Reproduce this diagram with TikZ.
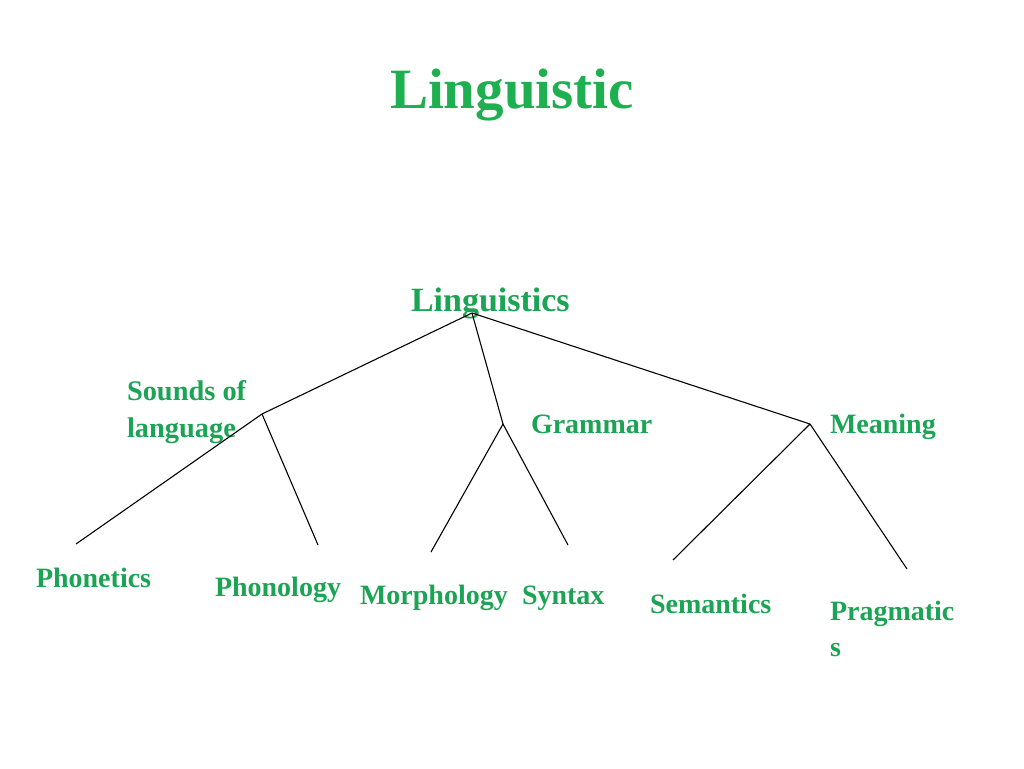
\documentclass[tikz,border=0pt]{standalone}
\usepackage{fontspec}
\setmainfont{Liberation Serif}
\definecolor{titlegreen}{RGB}{30,176,80}
\definecolor{labelgreen}{RGB}{26,164,84}
\begin{document}
\begin{tikzpicture}[x=1pt,y=-1pt,
  lab/.style={inner sep=0pt,outer sep=0pt,text=labelgreen,font=\fontsize{28}{36}\selectfont\bfseries,anchor=base west},
  branch/.style={line width=1.1pt,black}]
\useasboundingbox[fill=white] (0,0) rectangle (1024,768);
\node[inner sep=0pt,anchor=base,text=titlegreen,font=\fontsize{57}{64}\selectfont\bfseries] (title) at (512,108) {Linguistic};
\node[lab,font=\fontsize{34}{40}\selectfont\bfseries] (root) at (411,311) {Linguistics};
\node[lab,anchor=north west,align=left,font=\fontsize{28.4}{37}\selectfont\bfseries] (sounds) at (127,380) {Sounds of\\language};
\node[lab] (grammar) at (531,433) {Grammar};
\node[lab] (meaning) at (830,433) {Meaning};
\node[lab] (phonetics) at (36,587) {Phonetics};
\node[lab] (phonology) at (215,596) {Phonology};
\node[lab] (morphology) at (360,604) {Morphology};
\node[lab] (syntax) at (522,604) {Syntax};
\node[lab] (semantics) at (650,613) {Semantics};
\node[lab,anchor=north west,align=left,font=\fontsize{28}{36}\selectfont\bfseries] (pragmatics) at (830,601) {Pragmatic\\s};
% junction points
\coordinate (r) at (472,313);
\coordinate (js) at (262,414);
\coordinate (jg) at (503,424);
\coordinate (jm) at (810,424);
\coordinate (ephonetics) at (76,544);
\coordinate (ephonology) at (318,545);
\coordinate (emorph) at (431,552);
\coordinate (esyntax) at (568,545);
\coordinate (esem) at (673,560);
\coordinate (eprag) at (907,569);
\draw[branch] (r) -- (js);
\draw[branch] (r) -- (jg);
\draw[branch] (r) -- (jm);
\draw[branch] (js) -- (ephonetics);
\draw[branch] (js) -- (ephonology);
\draw[branch] (jg) -- (emorph);
\draw[branch] (jg) -- (esyntax);
\draw[branch] (jm) -- (esem);
\draw[branch] (jm) -- (eprag);
\end{tikzpicture}
\end{document}
